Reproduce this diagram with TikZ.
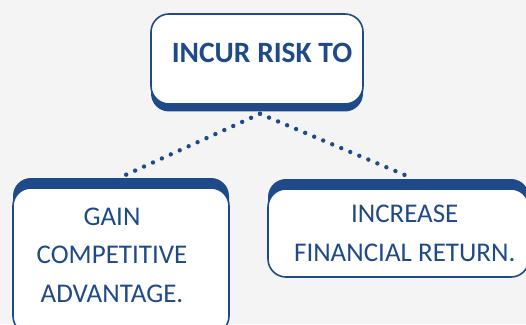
\documentclass[tikz,border=0pt]{standalone}
\usepackage{fontspec}
\setmainfont{Carlito}
\usetikzlibrary{shadows, positioning, calc}
\definecolor{riskblue}{HTML}{1F4A8A}
\definecolor{paper}{HTML}{F4F4F4}

\begin{document}
\begin{tikzpicture}[
  x=1pt, y=1pt,
  rbox/.style={
    draw=riskblue, line width=1.6pt, fill=white, rounded corners=18pt,
    minimum width=#1, inner sep=0pt
  },
  downshadow/.style={drop shadow={shadow xshift=0pt, shadow yshift=-7.5pt,
    fill=riskblue, opacity=1}},
  upshadow/.style={drop shadow={shadow xshift=0pt, shadow yshift=10pt,
    fill=riskblue, opacity=1}},
  rtext/.style={text=riskblue, align=center,
    font=\fontsize{27}{38.5}\selectfont},
  dots/.style={riskblue, line width=4.4pt, line cap=round,
    dash pattern=on 0pt off 9.8pt},
]

% Background
\fill[paper] (0,0) rectangle (526,324);
\useasboundingbox (0,0) rectangle (526,324);
\clip (0,0) rectangle (526,324);

% =============================================
% Top: incur risk
% =============================================
\node[rbox=212pt, minimum height=90pt, downshadow] (incur) at (257,265) {};
\node[text=riskblue, font=\fontsize{29.5}{34}\selectfont\bfseries,
      anchor=base] (incur-txt) at (262,261) {INCUR RISK TO};

% =============================================
% Bottom left: competitive advantage
% =============================================
\node[rbox=216pt, minimum height=146pt, upshadow] (gain) at (121,63) {};
\node[rtext] (gain-txt) at (112,69)
  {GAIN\\COMPETITIVE\\ADVANTAGE.};

% =============================================
% Bottom right: financial return
% =============================================
\node[rbox=261pt, minimum height=88pt, upshadow] (increase) at (398.5,91) {};
\node[rtext] (increase-txt) at (404.7,90.5)
  {INCREASE\\FINANCIAL RETURN.};

% =============================================
% Dotted links
% =============================================
\draw[dots] ([xshift=3pt, yshift=-9pt]incur.south) -- ([xshift=4pt, yshift=12pt]gain.north);
\draw[dots] ([xshift=3pt, yshift=-9pt]incur.south) -- ([xshift=11.5pt, yshift=11pt]increase.north);

\end{tikzpicture}
\end{document}
